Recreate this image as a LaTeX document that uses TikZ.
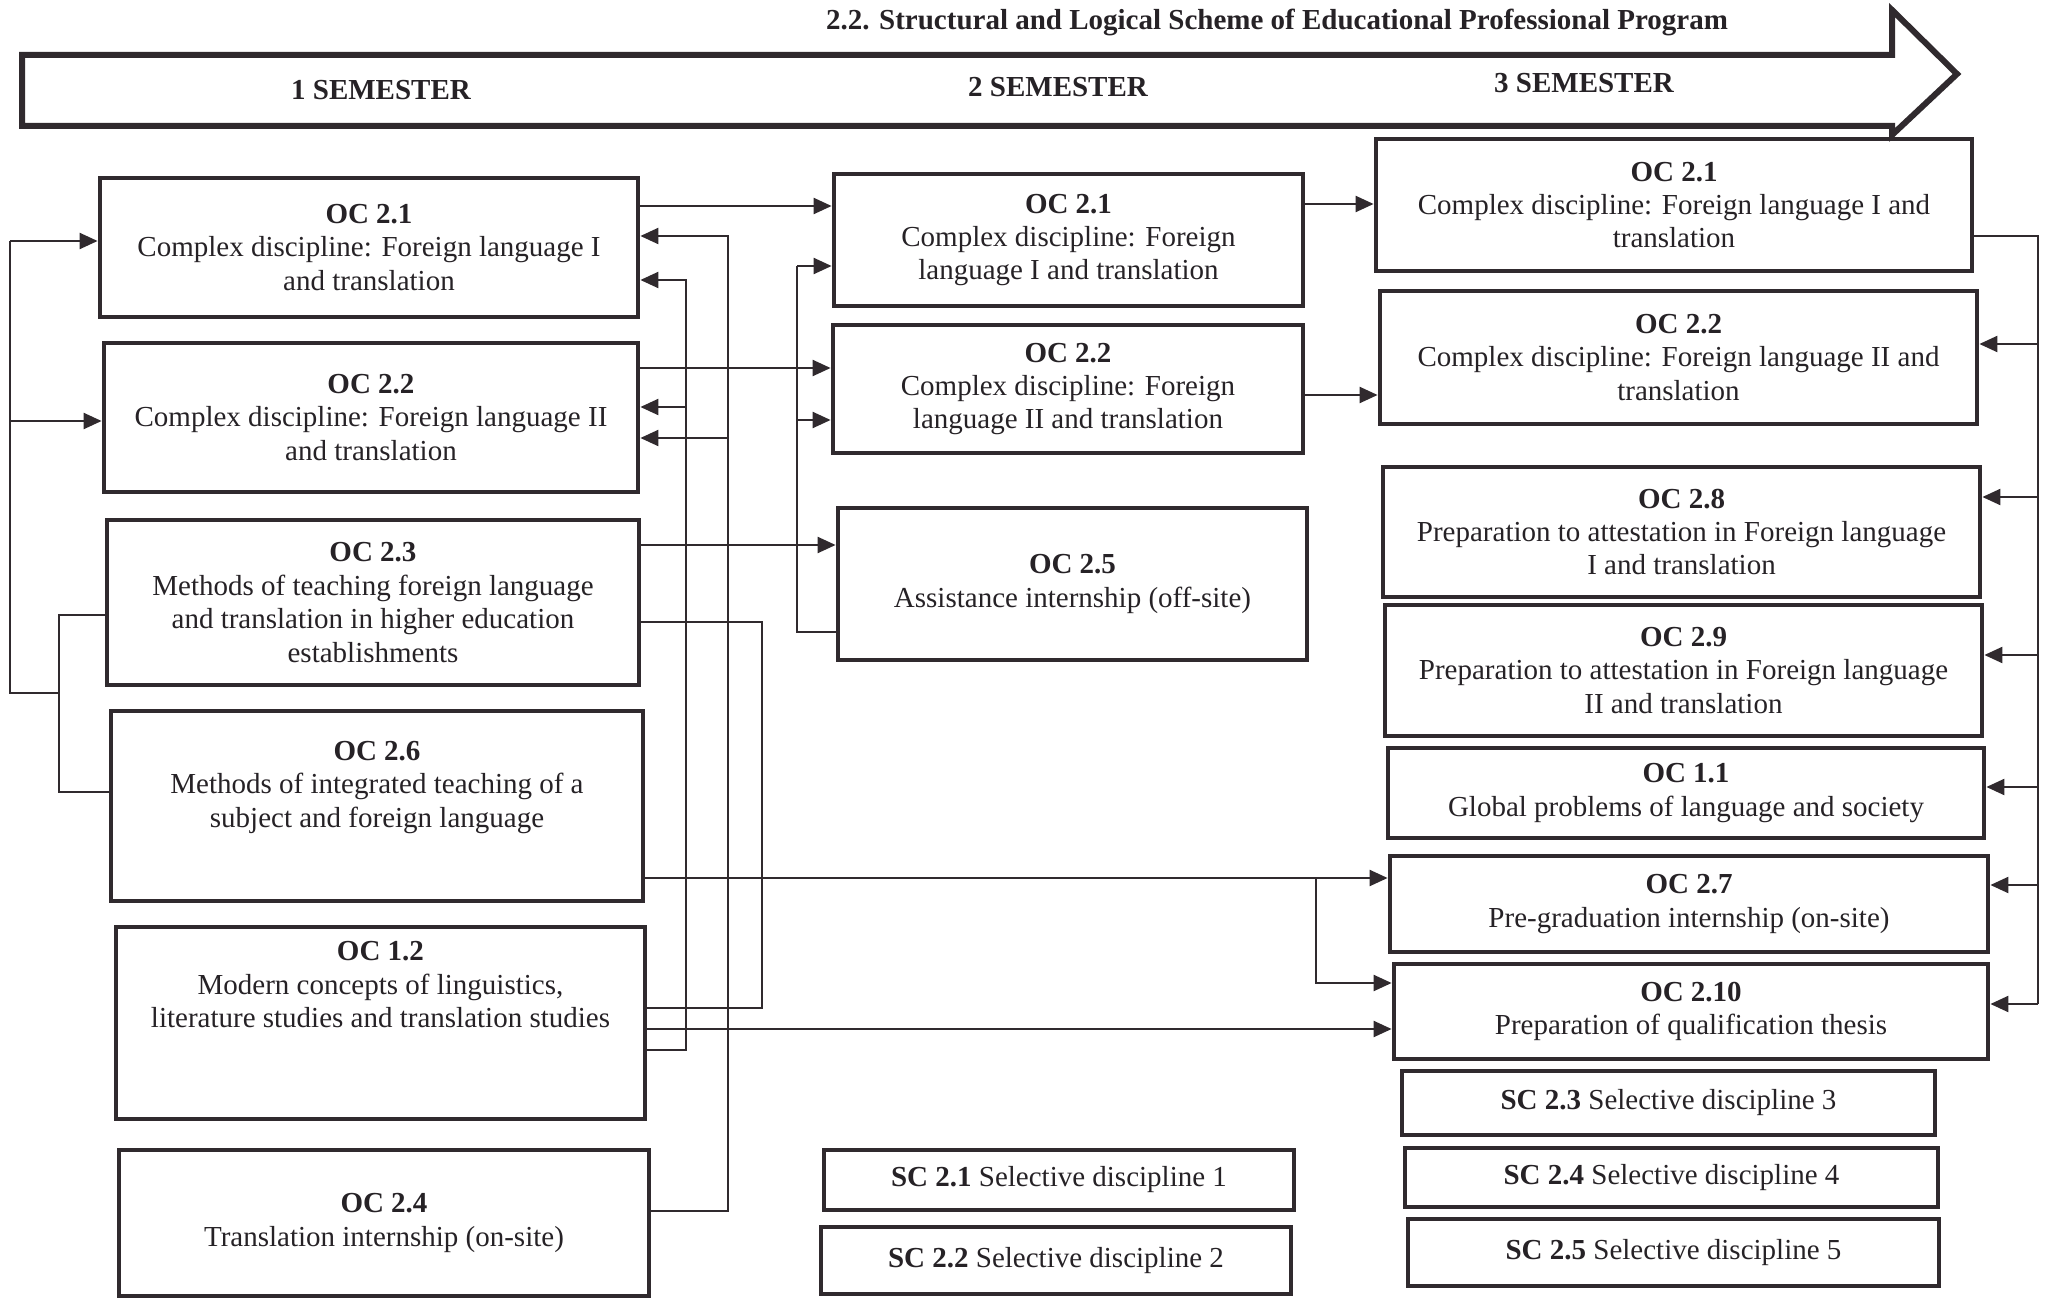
\documentclass[tikz,border=0pt]{standalone}
\usepackage{fontspec}
\setmainfont{Liberation Serif}
\usepackage{tikz}
\usetikzlibrary{arrows.meta,positioning,calc}
\definecolor{ink}{RGB}{48,42,46}
\definecolor{inktext}{RGB}{38,34,38}
\newcommand{\course}[6]{\node[course,minimum width={(#4-#2)*0.5pt},minimum height={(#5-#3)*0.5pt}] (#1) at ({(#2+#4)/2},{(#3+#5)/2}) {#6};}

\begin{document}
\begin{tikzpicture}[x=0.5pt,y=-0.5pt,
	course/.style={draw=ink,line width=2.4pt,align=center,inner sep=0pt,text=inktext,font=\fontsize{14.5}{16.7}\selectfont},
	sem/.style={text=inktext,font=\bfseries\fontsize{14.5}{16.7}\selectfont},
	link/.style={draw=ink,line width=1.1pt},
	arr/.style={link,-{Triangle[length=9pt,width=8pt]}}]
		\fill[white] (0,0) rectangle (2053,1300);
		\useasboundingbox (0,0) rectangle (2053,1300);
		% semester banner
		\draw[ink,line width=3pt,line join=miter] (22,55) -- (1892,55) -- (1892,10) -- (1957,74) -- (1892,135) -- (1892,126) -- (22,126) -- cycle;
		\node[sem] (title) at (1277,22) {2.2. Structural and Logical Scheme of Educational Professional Program};
		\node[sem] (sem1) at (381,90) {1 SEMESTER};
		\node[sem] (sem2) at (1058,87) {2 SEMESTER};
		\node[sem] (sem3) at (1584,83) {3 SEMESTER};
		% first semester
		\course{a21}{100}{178}{638}{317}{\textbf{OC 2.1}\\Complex discipline: Foreign language I\\and translation}
		\course{a22}{104}{343}{638}{492}{\textbf{OC 2.2}\\Complex discipline: Foreign language II\\and translation}
		\course{a23}{107}{520}{639}{685}{\textbf{OC 2.3}\\Methods of teaching foreign language\\and translation in higher education\\establishments}
		\course{a26}{111}{711}{643}{901}{\textbf{OC 2.6}\\Methods of integrated teaching of a\\subject and foreign language\\\strut}
		\course{a12}{116}{927}{645}{1119}{\textbf{OC 1.2}\\Modern concepts of linguistics,\\literature studies and translation studies\\\strut\\\strut}
		\course{a24}{119}{1150}{649}{1296}{\textbf{OC 2.4}\\Translation internship (on-site)}
		% second semester
		\course{b21}{834}{174}{1303}{306}{\textbf{OC 2.1}\\Complex discipline: Foreign\\language I and translation}
		\course{b22}{833}{325}{1303}{453}{\textbf{OC 2.2}\\Complex discipline: Foreign\\language II and translation}
		\course{b25}{838}{508}{1307}{660}{\textbf{OC 2.5}\\Assistance internship (off-site)}
		\course{s21}{824}{1150}{1294}{1210}{\textbf{SC 2.1} Selective discipline 1}
		\course{s22}{821}{1227}{1291}{1294}{\textbf{SC 2.2} Selective discipline 2}
		% third semester
		\course{c21}{1376}{139}{1972}{271}{\textbf{OC 2.1}\\Complex discipline: Foreign language I and\\translation}
		\course{c22}{1380}{291}{1977}{424}{\textbf{OC 2.2}\\Complex discipline: Foreign language II and\\translation}
		\course{c28}{1383}{467}{1980}{597}{\textbf{OC 2.8}\\Preparation to attestation in Foreign language\\I and translation}
		\course{c29}{1385}{605}{1982}{736}{\textbf{OC 2.9}\\Preparation to attestation in Foreign language\\II and translation}
		\course{c11}{1388}{748}{1984}{838}{\textbf{OC 1.1}\\Global problems of language and society}
		\course{c27}{1390}{856}{1988}{952}{\textbf{OC 2.7}\\Pre-graduation internship (on-site)}
		\course{c210}{1394}{964}{1988}{1059}{\textbf{OC 2.10}\\Preparation of qualification thesis}
		\course{s23}{1402}{1071}{1935}{1135}{\textbf{SC 2.3} Selective discipline 3}
		\course{s24}{1405}{1148}{1938}{1207}{\textbf{SC 2.4} Selective discipline 4}
		\course{s25}{1408}{1219}{1939}{1286}{\textbf{SC 2.5} Selective discipline 5}
		% bus lines
		\coordinate (busL) at (10,241);
		\coordinate (forkL) at (59,693);
		\coordinate (busA) at (728,236);
		\coordinate (busB) at (686,280);
		\coordinate (busD) at (797,266);
		\coordinate (forkE) at (1316,878);
		\coordinate (busR) at (2038,236);
		% left feed into semester 1
		\draw[link] (a23.west |- 0,615) -| (59,792) -- (a26.west |- 0,792);
		\draw[link] (forkL) -| (busL);
		\draw[arr] (busL) -- (a21.west |- busL);
		\draw[arr] (busL |- 0,421) -- (a22.west |- 0,421);
		% feedback within semester 1
		\draw[arr] (a24.east |- 0,1211) -| (busA) -- (a21.east |- busA);
		\draw[arr] (busA |- 0,438) -- (a22.east |- 0,438);
		\draw[arr] (a12.east |- 0,1050) -| (busB) -- (a21.east |- busB);
		\draw[arr] (busB |- 0,407) -- (a22.east |- 0,407);
		\draw[link] (a23.east |- 0,622) -| (762,1008) -- (a12.east |- 0,1008);
		% semester 1 to semester 2
		\draw[arr] (a21.east |- 0,206) -- (b21.west |- 0,206);
		\draw[arr] (a22.east |- 0,368) -- (b22.west |- 0,368);
		\draw[arr] (a23.east |- 0,545) -- (b25.west |- 0,545);
		\draw[link] (b25.west |- 0,632) -| (busD);
		\draw[arr] (busD) -- (b21.west |- busD);
		\draw[arr] (busD |- 0,420) -- (b22.west |- 0,420);
		% to semester 3
		\draw[arr] (b21.east |- 0,204) -- (c21.west |- 0,204);
		\draw[arr] (b22.east |- 0,395) -- (c22.west |- 0,395);
		\draw[arr] (a26.east |- forkE) -- (c27.west |- forkE);
		\draw[arr] (forkE) |- (c210.west |- 0,983);
		\draw[arr] (a12.east |- 0,1029) -- (c210.west |- 0,1029);
		% right bus from OC 2.1
		\draw[link] (c21.east |- busR) -- (busR) -- (busR |- 0,1004);
		\foreach \y/\n in {344/c22,497/c28,655/c29,787/c11,885/c27,1004/c210}
			\draw[arr] (busR |- 0,\y) -- (\n.east |- 0,\y);
\end{tikzpicture}
\end{document}
